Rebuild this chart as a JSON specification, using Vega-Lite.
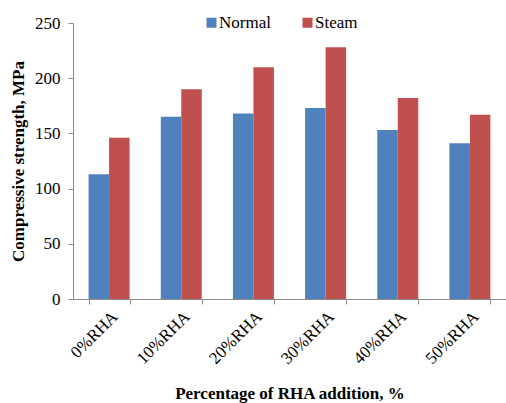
{
  "$schema": "https://vega.github.io/schema/vega-lite/v6.json",
  "width": 433,
  "height": 276,
  "autosize": {"type": "none"},
  "padding": {"left": 73, "top": 23, "right": 0, "bottom": 104},
  "background": "white",
  "data": {"values": [
    {"cat": "0%RHA", "type": "Normal", "value": 113},
    {"cat": "0%RHA", "type": "Steam", "value": 146},
    {"cat": "10%RHA", "type": "Normal", "value": 165},
    {"cat": "10%RHA", "type": "Steam", "value": 190},
    {"cat": "20%RHA", "type": "Normal", "value": 168},
    {"cat": "20%RHA", "type": "Steam", "value": 210},
    {"cat": "30%RHA", "type": "Normal", "value": 173},
    {"cat": "30%RHA", "type": "Steam", "value": 228},
    {"cat": "40%RHA", "type": "Normal", "value": 153},
    {"cat": "40%RHA", "type": "Steam", "value": 182},
    {"cat": "50%RHA", "type": "Normal", "value": 141},
    {"cat": "50%RHA", "type": "Steam", "value": 167}
  ]},
  "config": {
    "font": "Liberation Serif",
    "view": {"stroke": null},
    "axis": {"labelFont": "Liberation Serif", "titleFont": "Liberation Serif", "labelColor": "black", "titleColor": "black", "domainColor": "#8c8c8c", "tickColor": "#8c8c8c", "labelFontSize": 17, "titleFontSize": 17, "titleFontWeight": "bold", "grid": false}
  },
  "mark": {"type": "bar"},
  "encoding": {
    "x": {
      "field": "cat", "type": "nominal", "sort": null,
      "scale": {"paddingInner": 0.432, "paddingOuter": 0.216},
      "axis": {"title": "Percentage of RHA addition, %", "labelAngle": -45, "tickBand": "extent", "tickSize": 5, "labelPadding": 4, "titlePadding": 19}
    },
    "xOffset": {"field": "type", "type": "nominal", "sort": ["Normal", "Steam"], "scale": {"paddingInner": 0, "paddingOuter": 0}},
    "y": {
      "field": "value", "type": "quantitative",
      "scale": {"domain": [0, 250], "nice": false},
      "axis": {"title": "Compressive strength, MPa", "values": [0, 50, 100, 150, 200, 250], "tickSize": 5, "labelPadding": 8, "titlePadding": 7}
    },
    "color": {
      "field": "type", "type": "nominal",
      "scale": {"domain": ["Normal", "Steam"], "range": ["#4F81BD", "#C0504D"]},
      "legend": {"title": null, "orient": "none", "direction": "horizontal", "legendX": 130, "legendY": -9, "symbolType": "square", "symbolSize": 100, "symbolOpacity": 1, "symbolStrokeWidth": 0, "labelFontSize": 17, "labelFont": "Liberation Serif", "labelColor": "black", "labelOffset": -1, "columnPadding": 28}
    }
  }
}
